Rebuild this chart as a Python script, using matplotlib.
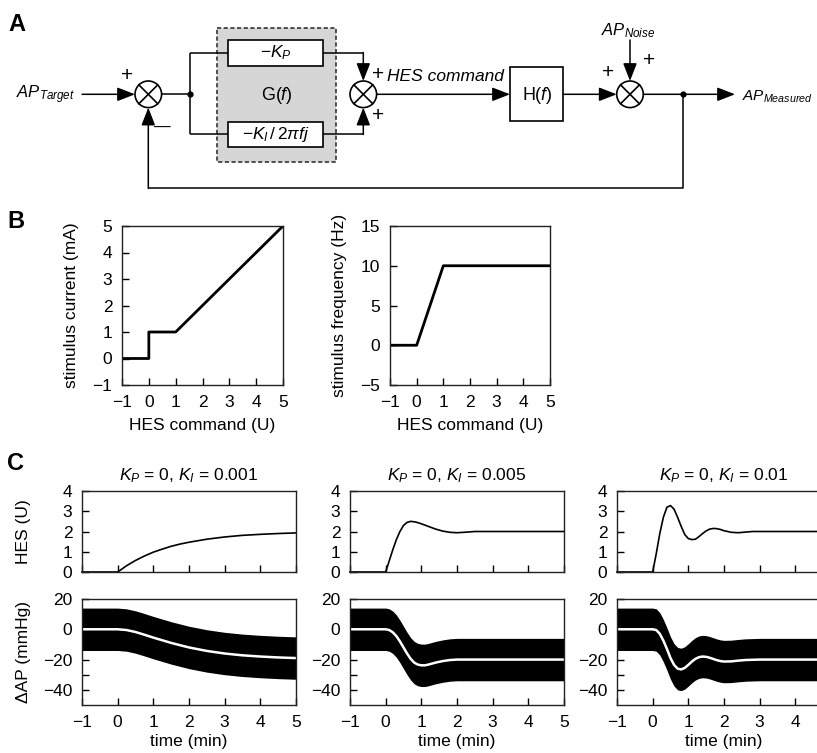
import matplotlib
matplotlib.use("Agg")
import matplotlib.pyplot as plt
from matplotlib.patches import Circle, Rectangle
import numpy as np

plt.rcParams["font.family"] = ["Liberation Sans", "DejaVu Sans"]
plt.rcParams["mathtext.fontset"] = "custom"
plt.rcParams["mathtext.rm"] = "Liberation Sans"
plt.rcParams["mathtext.it"] = "Liberation Sans:italic"
plt.rcParams["mathtext.bf"] = "Liberation Sans:bold"
plt.rcParams["font.size"] = 12

# ---- panel B: HES command -> stimulus mapping
hes_cmd_current = [-1, 0, 0, 1, 5]
stim_current = [0, 0, 1, 1, 5]
hes_cmd_freq = [-1, 0, 1, 5]
stim_freq = [0, 0, 10, 10]

# ---- panel C: simulated responses
titles_c = [r"$K_P$ = 0, $K_I$ = 0.001", r"$K_P$ = 0, $K_I$ = 0.005", r"$K_P$ = 0, $K_I$ = 0.01"]

t_hes1 = [-1, 0, 0.25, 0.5, 0.75, 1, 1.25, 1.5, 1.75, 2, 2.5, 3, 3.5, 4, 4.5, 5]
hes1 = [0, 0, 0.31, 0.57, 0.79, 0.98, 1.13, 1.27, 1.38, 1.47, 1.62, 1.73, 1.81, 1.86, 1.90, 1.93]

t_hes2 = [-1, 0, 0.1, 0.2, 0.3, 0.4, 0.5, 0.6, 0.7, 0.8, 0.9, 1.0, 1.2, 1.4, 1.6, 1.8, 2.0, 2.2, 2.5, 3, 4, 5]
hes2 = [0, 0, 0.55, 1.1, 1.6, 2.0, 2.3, 2.45, 2.5, 2.48, 2.44, 2.38, 2.25, 2.12, 2.02, 1.96, 1.94, 1.96, 2.0, 2.0, 2.0, 2.0]

t_hes3 = [-1, 0, 0.1, 0.2, 0.3, 0.4, 0.5, 0.6, 0.7, 0.8, 0.9, 1.0, 1.1, 1.2, 1.3, 1.4, 1.5,
          1.6, 1.7, 1.8, 1.9, 2.0, 2.2, 2.4, 2.6, 2.8, 3, 4, 5]
hes3 = [0, 0, 0.9, 1.9, 2.7, 3.2, 3.28, 3.1, 2.7, 2.25, 1.85, 1.65, 1.6, 1.62, 1.75, 1.9, 2.03,
        2.12, 2.15, 2.14, 2.1, 2.04, 1.96, 1.94, 1.97, 2.0, 2.0, 2.0, 2.0]

t_ap1 = [-1, 0, 0.25, 0.5, 0.75, 1, 1.5, 2, 2.5, 3, 3.5, 4, 4.5, 5]
ap1 = [0, 0, -0.5, -1.8, -3.6, -5.5, -9, -12, -14.3, -16, -17.2, -18, -18.6, -19]

t_ap2 = [-1, 0, 0.1, 0.2, 0.3, 0.4, 0.5, 0.6, 0.7, 0.8, 0.9, 1.0, 1.1, 1.2, 1.4, 1.6, 1.8, 2.0, 2.5, 3, 4, 5]
ap2 = [0, 0, -0.5, -2, -4.5, -8, -12, -16, -19.5, -22, -23.3, -23.8, -23.8, -23.3, -22, -21,
       -20.3, -20, -20, -20, -20, -20]

t_ap3 = [-1, 0, 0.1, 0.2, 0.3, 0.4, 0.5, 0.6, 0.7, 0.8, 0.9, 1.0, 1.1, 1.2, 1.3, 1.4, 1.5,
         1.6, 1.7, 1.8, 1.9, 2.0, 2.2, 2.4, 2.6, 3, 4, 5]
ap3 = [0, 0, -0.5, -3, -7.5, -13, -19, -23.5, -26, -26.5, -25.5, -23.5, -21.3, -19.5, -18.4,
       -18, -18.2, -18.8, -19.6, -20.4, -21, -21.3, -21.2, -20.7, -20.3, -20, -20, -20]

noise_halfwidth = 14  # half-width of the black AP noise band (mmHg)

hes_series = [(t_hes1, hes1), (t_hes2, hes2), (t_hes3, hes3)]
ap_series = [(t_ap1, ap1), (t_ap2, ap2), (t_ap3, ap3)]

W, H = 817, 753
fig = plt.figure(figsize=(W / 100, H / 100), dpi=100)


def px_axes(left, top, right, bottom):
    return fig.add_axes([left / W, 1 - bottom / H, (right - left) / W, (bottom - top) / H])


def style(ax):
    for s in ax.spines.values():
        s.set_linewidth(1.0)
        s.set_color("#222222")
    ax.tick_params(direction="in", length=5, width=1, top=False, right=False, labelsize=12.5, pad=7)
    ax.tick_params(which="minor", direction="in", length=5, width=1)


# panel B
axb1 = px_axes(122, 226, 283, 385)
axb1.plot(hes_cmd_current, stim_current, color="black", lw=2)
axb1.set_xlim(-1, 5)
axb1.set_ylim(-1, 5)
axb1.set_xticks(range(-1, 6))
axb1.set_yticks(range(-1, 6))
axb1.set_xlabel("HES command (U)", fontsize=12.5, labelpad=6)
axb1.set_ylabel("stimulus current (mA)", fontsize=12.5)
style(axb1)
axb1.yaxis.set_label_coords(-0.27, 0.5)

axb2 = px_axes(390, 226, 550, 385)
axb2.plot(hes_cmd_freq, stim_freq, color="black", lw=2)
axb2.set_xlim(-1, 5)
axb2.set_ylim(-5, 15)
axb2.set_xticks(range(-1, 6))
axb2.set_yticks([-5, 0, 5, 10, 15])
axb2.set_xlabel("HES command (U)", fontsize=12.5, labelpad=6)
axb2.set_ylabel("stimulus frequency (Hz)", fontsize=12.5)
style(axb2)
axb2.yaxis.set_label_coords(-0.27, 0.5)

# panel C
lefts = [82, 350, 617]
for i, left in enumerate(lefts):
    right = left + 214
    xt = range(-1, 6) if i < 2 else range(-1, 5)
    axh = px_axes(left, 491, right, 572)
    th, yh = hes_series[i]
    axh.plot(th, yh, color="black", lw=1.2, clip_on=False)
    axh.set_xlim(-1, 5)
    axh.set_ylim(0, 4)
    axh.set_xticks(list(xt))
    axh.set_xticklabels([])
    axh.set_yticks(range(0, 5))
    axh.set_title(titles_c[i], fontsize=12.5, pad=8)
    style(axh)

    axa = px_axes(left, 599, right, 705)
    ta, ya = ap_series[i]
    ya = np.array(ya)
    axa.fill_between(ta, ya - noise_halfwidth, ya + noise_halfwidth, color="black", lw=0)
    axa.plot(ta, ya, color="white", lw=1.8)
    axa.set_xlim(-1, 5)
    axa.set_ylim(-50, 20)
    axa.set_xticks(list(xt))
    axa.set_yticks([-40, -20, 0, 20])
    axa.set_yticks([-30, -10, 10], minor=True)
    axa.set_xlabel("time (min)", fontsize=12.5)
    style(axa)
    axa.xaxis.set_label_coords(0.5, -0.27)
    if i == 0:
        axh.set_ylabel("HES (U)", fontsize=12.5)
        axa.set_ylabel("ΔAP (mmHg)", fontsize=12.5)
        axh.yaxis.set_label_coords(-0.24, 0.5)
        axa.yaxis.set_label_coords(-0.24, 0.5)

# panel A: block diagram drawn in pixel coordinates
ov = fig.add_axes([0, 0, 1, 1], zorder=5)
ov.set_xlim(0, W)
ov.set_ylim(H, 0)
ov.axis("off")
ov.patch.set_alpha(0)

lw = 1.1


def line(xs, ys):
    ov.plot(xs, ys, color="black", lw=lw, solid_capstyle="butt")


def arrow(x0, y0, x1, y1):
    ov.annotate("", xy=(x1, y1), xytext=(x0, y0),
                arrowprops=dict(arrowstyle="-|>,head_length=0.9,head_width=0.35", lw=lw,
                                color="black", shrinkA=0, shrinkB=0, mutation_scale=12))


def junction(cx, cy, r=13.3):
    ov.add_patch(Circle((cx, cy), r, facecolor="white", edgecolor="black", lw=1.2, zorder=3))
    d = r * 0.707
    ov.plot([cx - d, cx + d], [cy - d, cy + d], color="black", lw=1.2, zorder=4)
    ov.plot([cx - d, cx + d], [cy + d, cy - d], color="black", lw=1.2, zorder=4)


yc = 94.3
ov.add_patch(Rectangle((216.7, 27.7), 119, 134, facecolor="#d6d6d6", edgecolor="#333333",
                       lw=1.2, ls=(0, (2.5, 1.5)), zorder=0))
ov.add_patch(Rectangle((228, 40), 95, 26, facecolor="white", edgecolor="black", lw=1.2, zorder=2))
ov.add_patch(Rectangle((228, 121.7), 95, 25, facecolor="white", edgecolor="black", lw=1.2, zorder=2))
ov.add_patch(Rectangle((510, 66.7), 53.3, 54.3, facecolor="white", edgecolor="black", lw=1.2, zorder=2))

arrow(82, yc, 135, yc)
junction(148.3, yc)
line([161.6, 190], [yc, yc])
ov.plot(190, yc, "o", color="black", ms=3.5)
line([190, 190], [53, 134])
line([190, 228], [53, 53])
line([190, 228], [134, 134])
line([323, 363.3], [53, 53])
arrow(363.3, 52.5, 363.3, 81)
line([323, 363.3], [134, 134])
arrow(363.3, 134.5, 363.3, 107.6)
junction(363.3, yc)
arrow(376.6, yc, 510, yc)
arrow(563.3, yc, 616.7, yc)
arrow(630, 40, 630, 81)
junction(630, yc)
arrow(643.3, yc, 735, yc)
ov.plot(683.3, yc, "o", color="black", ms=3.5)
line([683.3, 683.3, 148.3], [yc, 188, 188])
arrow(148.3, 188.5, 148.3, 107.6)

ov.text(16, 95, r"$AP_{Target}$", fontsize=12, ha="left", va="center")
ov.text(127, 75, "+", fontsize=15, ha="center", va="center")
ov.text(162, 127, "—", fontsize=12, ha="center", va="center")
ov.text(275.5, 53, r"$-K_P$", fontsize=12.5, ha="center", va="center", zorder=6)
ov.text(275.5, 134, r"$-K_I\,/\,2\pi fj$", fontsize=12.5, ha="center", va="center", zorder=6)
ov.text(277, 95, r"G($f$)", fontsize=13, ha="center", va="center")
ov.text(378, 74, "+", fontsize=15, ha="center", va="center")
ov.text(378, 115, "+", fontsize=15, ha="center", va="center")
ov.text(387, 76, "HES command", fontsize=12.5, style="italic", ha="left", va="center")
ov.text(537, 95, r"H($f$)", fontsize=13, ha="center", va="center", zorder=6)
ov.text(608, 72, "+", fontsize=15, ha="center", va="center")
ov.text(649, 60, "+", fontsize=15, ha="center", va="center")
ov.text(628, 31, r"$AP_{Noise}$", fontsize=12, ha="center", va="center")
ov.text(742, 97, r"$AP_{Measured}$", fontsize=11, ha="left", va="center")

ov.text(17, 24, "A", fontsize=17, fontweight="bold", ha="center", va="center")
ov.text(16, 221, "B", fontsize=17, fontweight="bold", ha="center", va="center")
ov.text(16, 463, "C", fontsize=17, fontweight="bold", ha="center", va="center")

fig.savefig("out.png", dpi=100)
